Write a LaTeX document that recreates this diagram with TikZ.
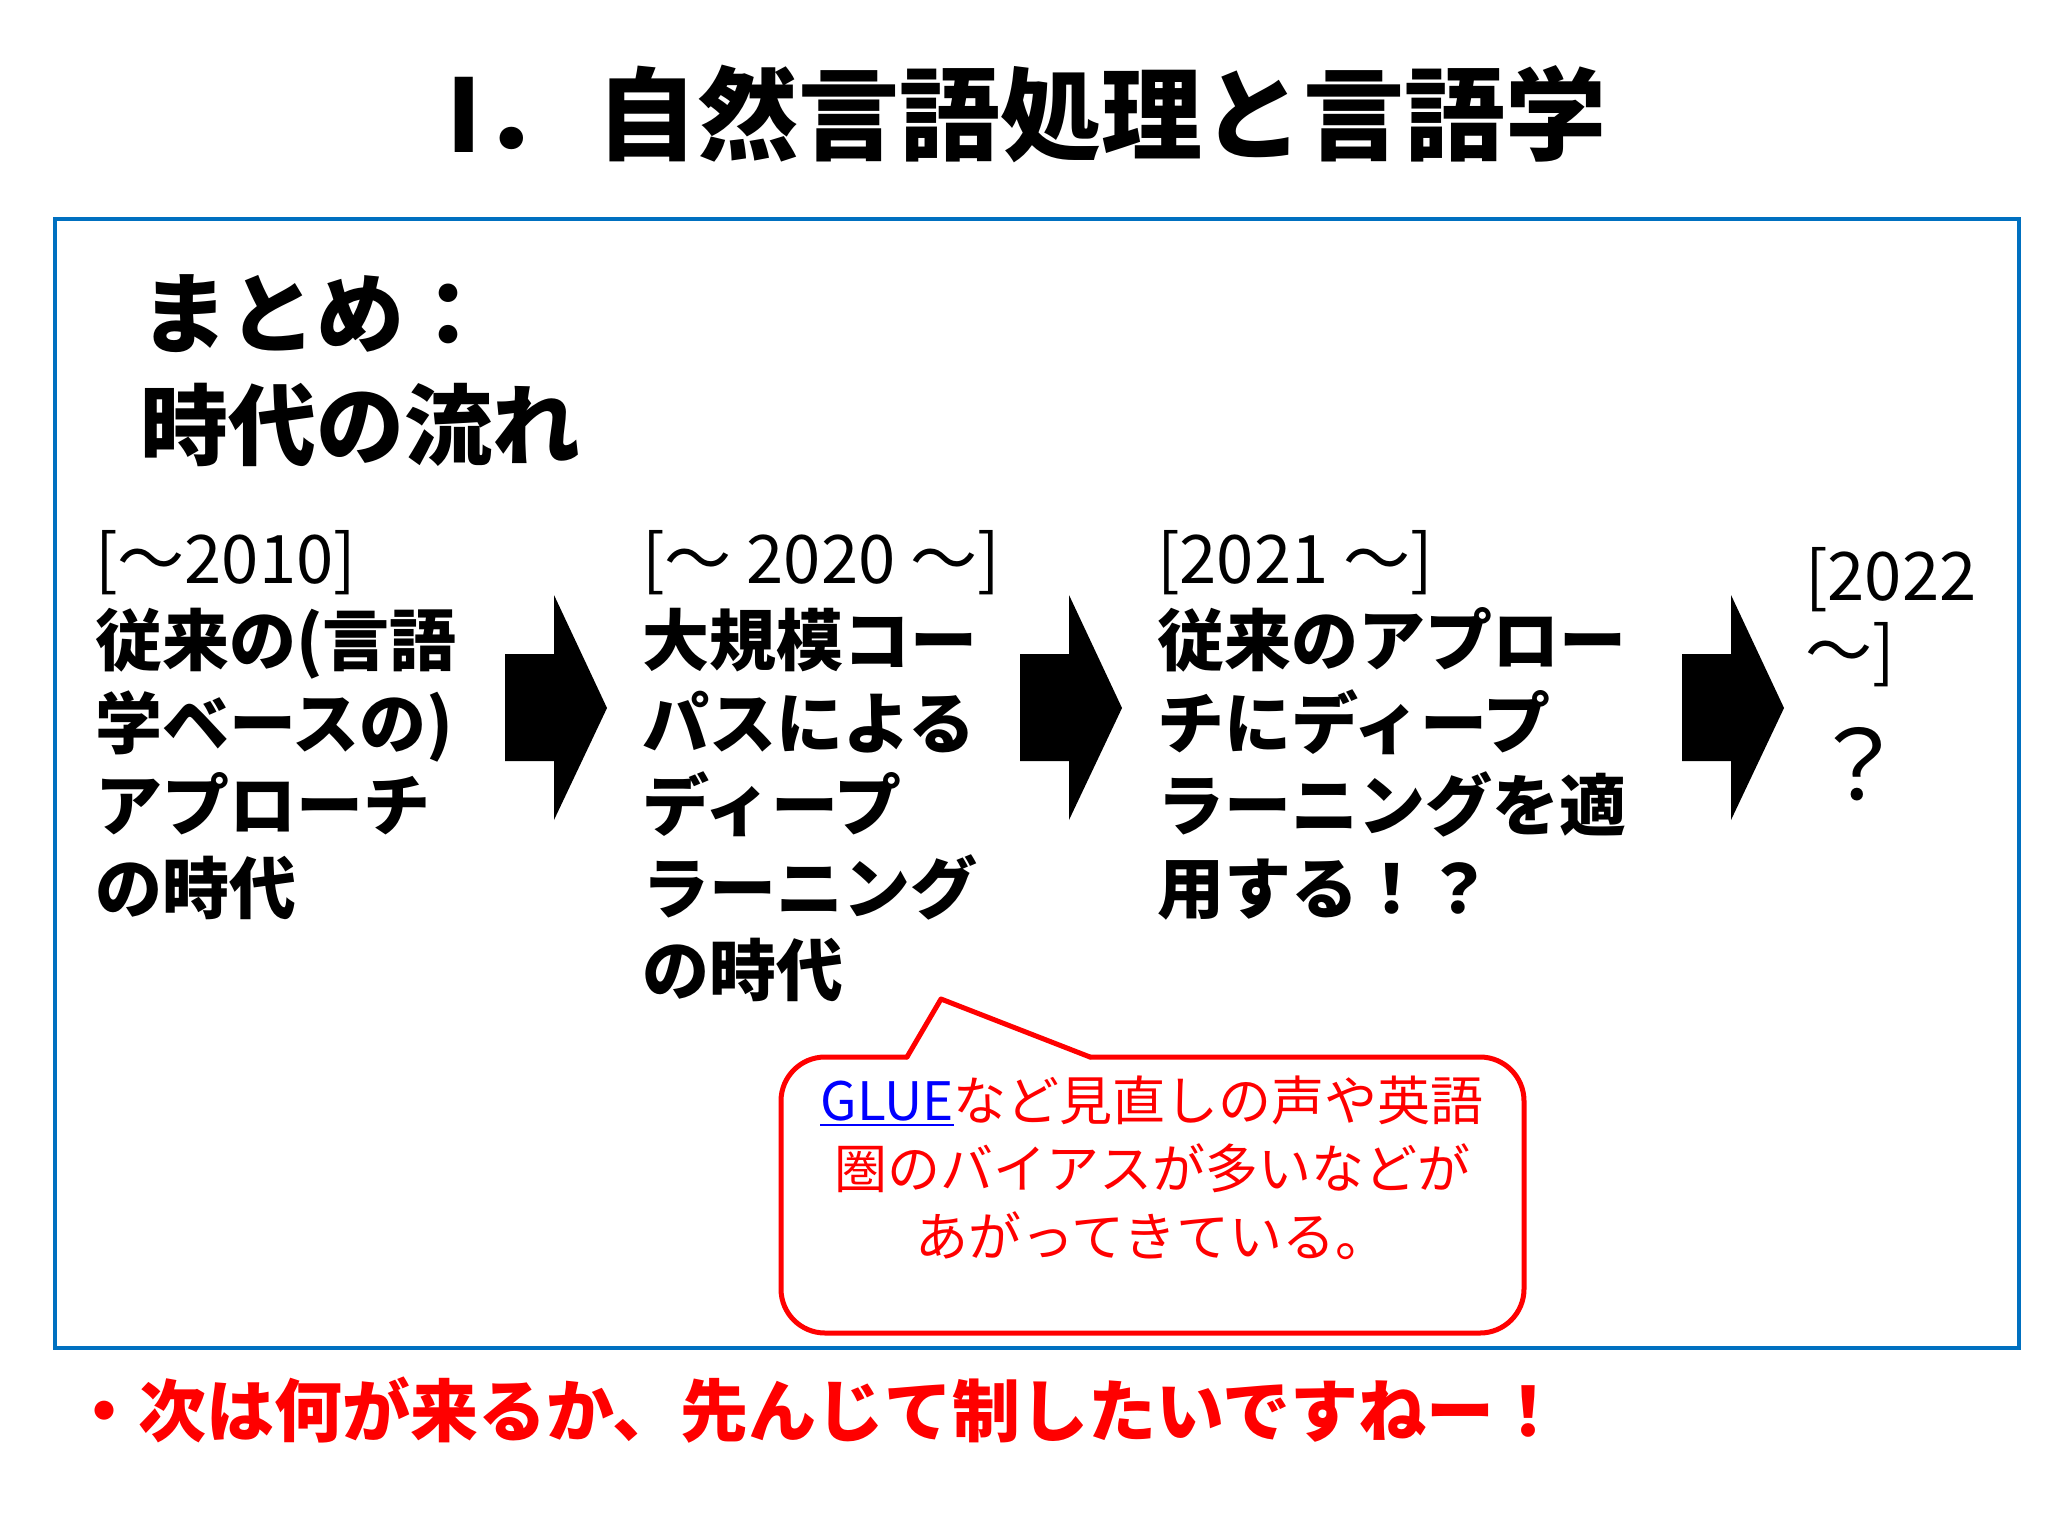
\documentclass[tikz,border=0pt]{standalone}
\usepackage{fontspec}
\setmainfont{Noto Sans CJK JP}
\definecolor{frameblue}{HTML}{0070C0}
\definecolor{calred}{HTML}{FF0000}
\definecolor{linkblue}{HTML}{0000FF}
\newcommand\myul[1]{\setbox0\hbox{#1}\rlap{\rule[-3.2pt]{\wd0}{1.4pt}}\box0}
\begin{document}
\begin{tikzpicture}[x=0.5pt,y=-0.5pt,
  every node/.style={inner sep=0pt, outer sep=0pt},
  titletext/.style={font=\bfseries\fontsize{50.5}{60}\selectfont, anchor=base west},
  headtext/.style={font=\bfseries\fontsize{44}{56}\selectfont, anchor=base west, align=left},
  coltext/.style={font=\bfseries\fontsize{33.5}{41.25}\selectfont, anchor=base west, align=left},
  blockarrow/.style={fill=black},
  frame/.style={draw=frameblue, line width=2pt},
  callout/.style={draw=calred, line width=2.5pt, line cap=round, line join=round},
  notetext/.style={font=\fontsize{26.5}{34}\selectfont, text=calred, align=center, anchor=base},
  bottomtext/.style={font=\bfseries\fontsize{34}{40}\selectfont, text=calred, anchor=base west}]
\useasboundingbox[fill=white] (0,0) rectangle (2048,1536);

% title
\node[titletext] (title) at (446,152) {I．\hspace{7pt}自然言語処理と言語学};

% blue frame
\draw[frame] (55,219) rectangle (2019,1348);

% heading (anchor = baseline of last line)
\node[headtext] (head) at (140,458) {まとめ：\\時代の流れ};

% columns (anchor = baseline of last line)
\node[coltext] (c1) at (95,913) {{\mdseries [～2010]}\\従来の(言語\\学ベースの)\\アプローチ\\の時代};
\node[coltext] (c2) at (642,995.5) {{\mdseries [～ 2020 ～]}\\大規模コー\\パスによる\\ディープ\\ラーニング\\の時代};
\node[coltext] (c3) at (1157,913) {{\mdseries [2021 ～]}\\従来のアプロー\\チにディープ\\ラーニングを適\\用する！？};
\node[coltext, font=\mdseries\fontsize{33.5}{37.5}\selectfont] (c4) at (1805,675) {[2022\\～]};
\node[font=\fontsize{48}{56}\selectfont, anchor=base] (c4q) at (1858,800) {？};

% block arrows
\foreach \ax in {505,1020,1682}{
  \fill[blockarrow] (\ax,654) -- (\ax+49,654) -- (\ax+49,595) -- (\ax+102,708)
     -- (\ax+49,820) -- (\ax+49,761) -- (\ax,761) -- cycle;
}

% callout
\draw[callout, rounded corners=22pt] (1090,1057) -- (1524,1057) -- (1524,1333) -- (781,1333) -- (781,1057) -- (907,1057);
\draw[callout] (907,1057) -- (941,999) -- (1090,1057);
\node[notetext] (note) at (1152,1256) {\textcolor{linkblue}{\myul{GLUE}}など見直しの声や英語\\圏のバイアスが多いなどが\\あがってきている。};

% bottom line
\node[bottomtext] (bottom) at (70,1436) {・次は何が来るか、先んじて制したいですねー！};
\end{tikzpicture}
\end{document}
